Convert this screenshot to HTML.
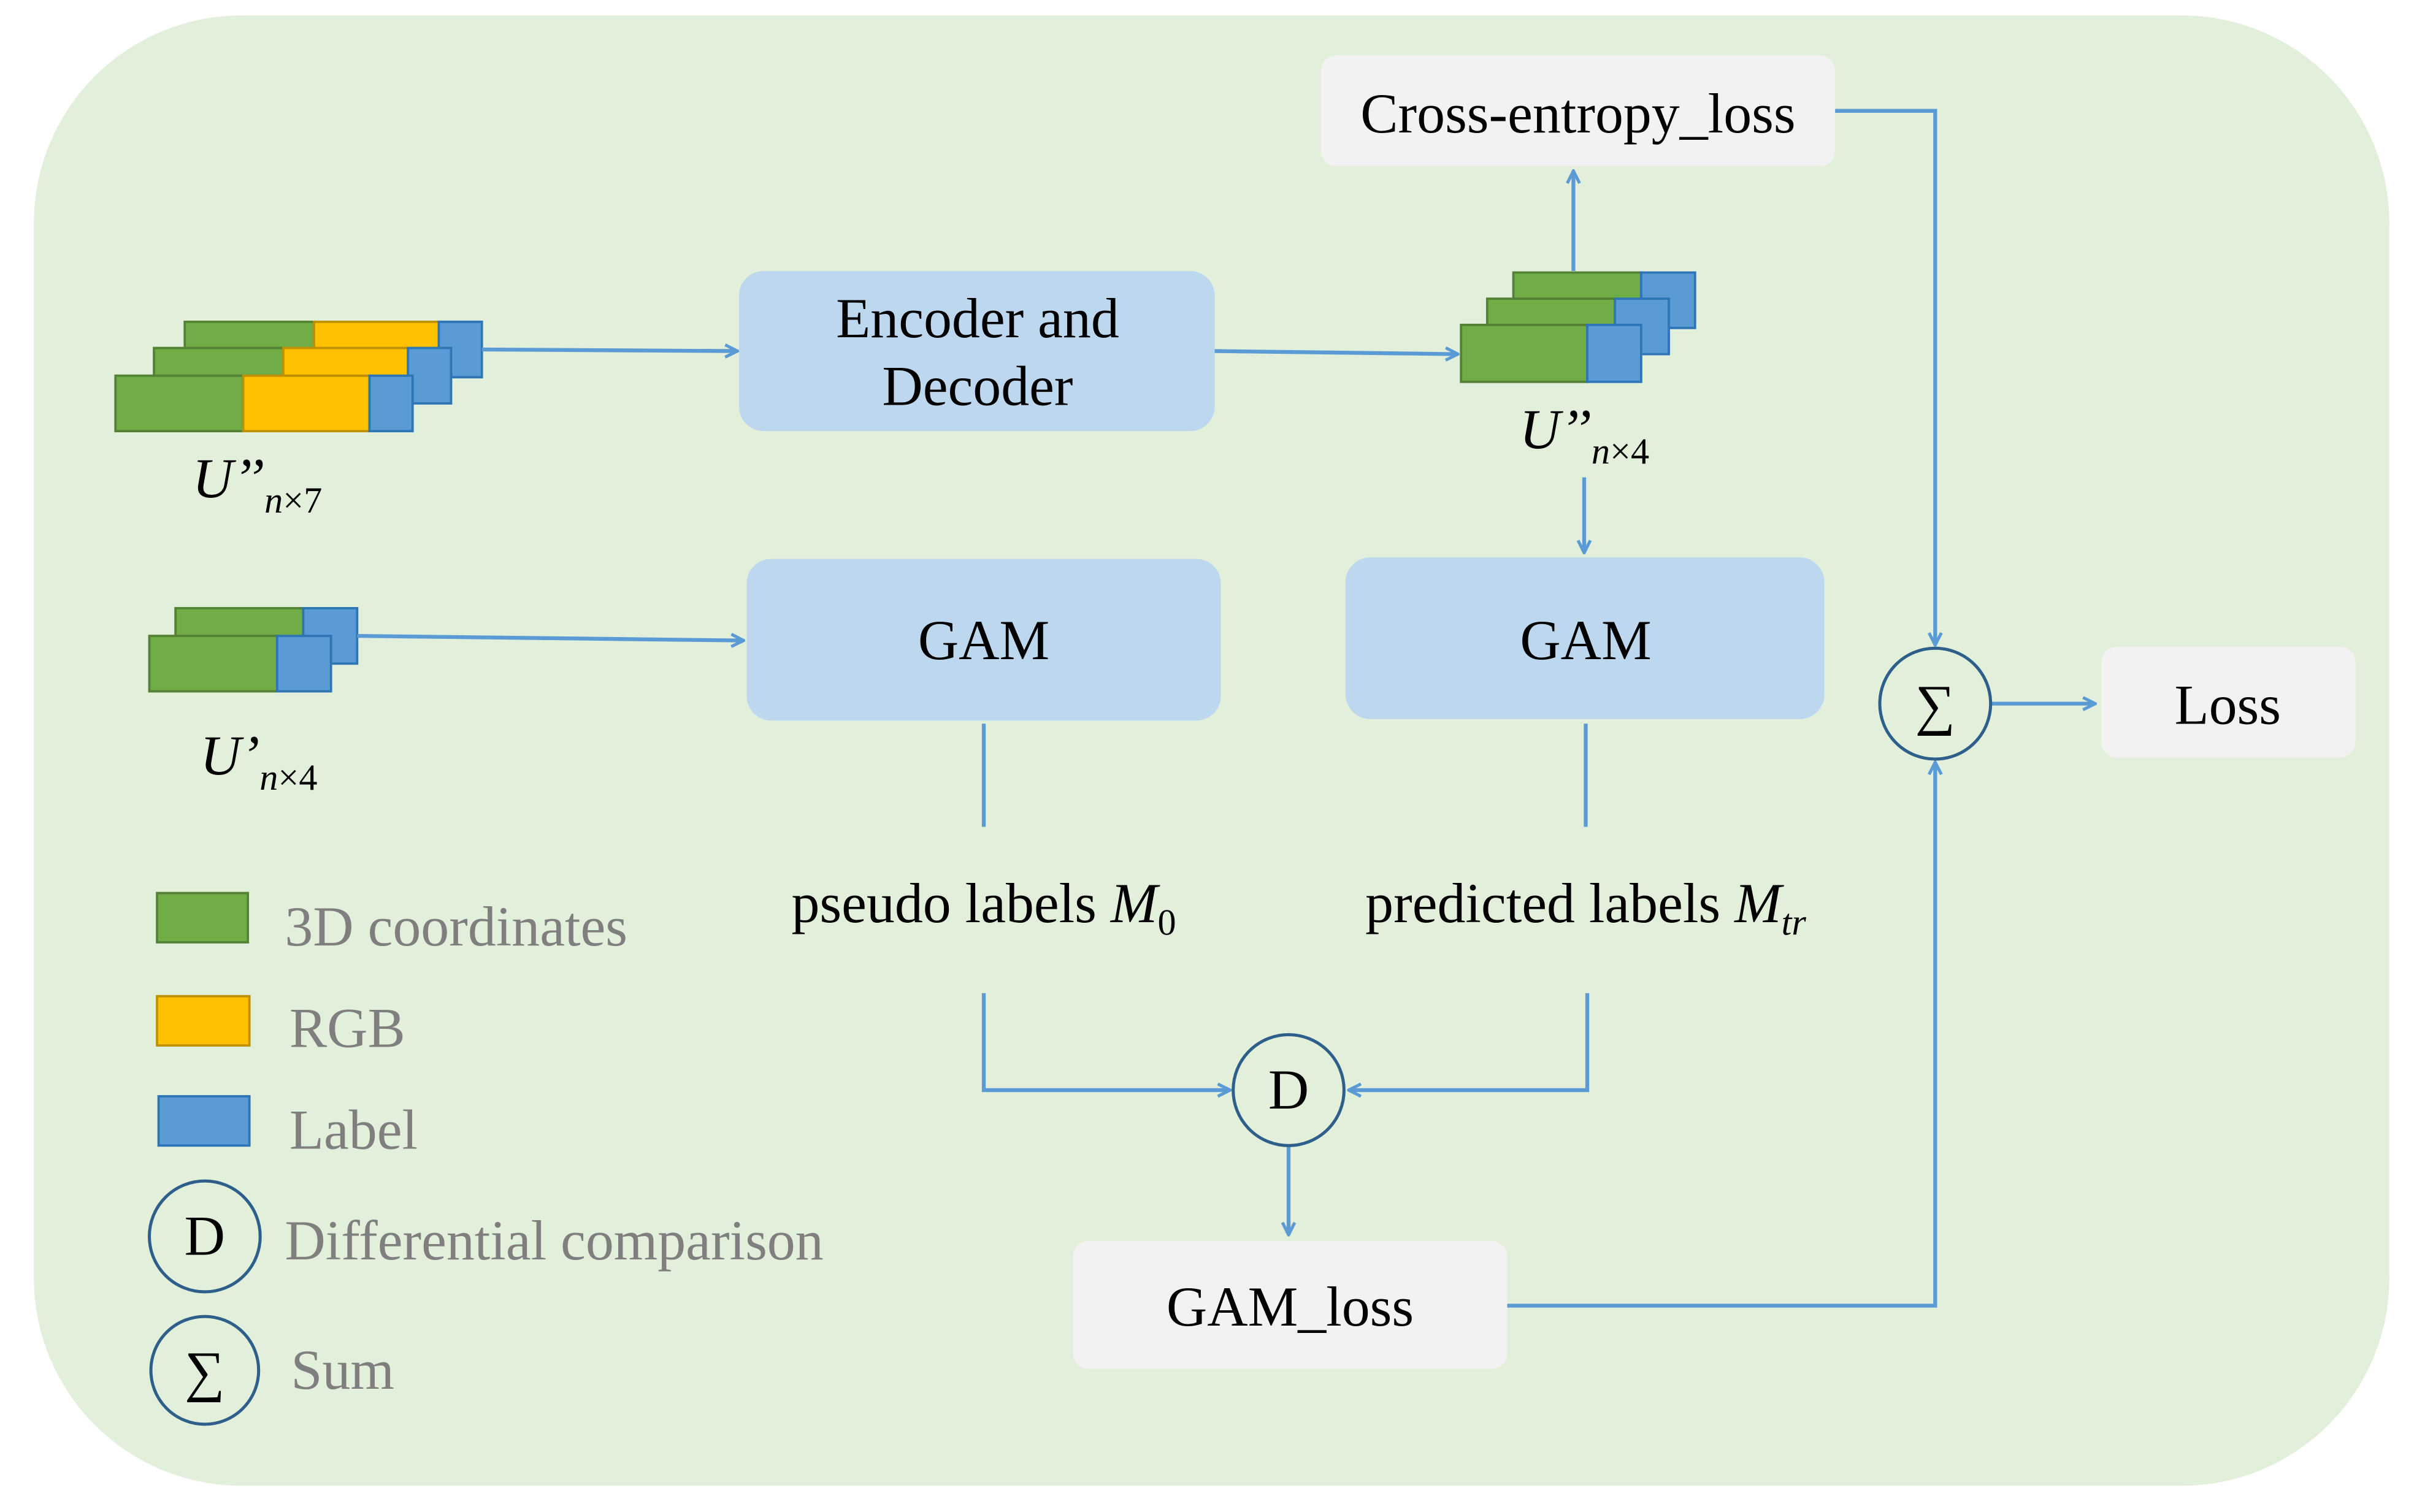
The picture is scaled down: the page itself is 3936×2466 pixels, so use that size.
<!DOCTYPE html>
<html><head><style>html,body{margin:0;padding:0;background:#fff}svg{display:block}</style></head><body>
<svg width="3936" height="2466" viewBox="0 0 1568 982" preserveAspectRatio="none" xmlns="http://www.w3.org/2000/svg" font-family="Liberation Serif, serif">
<defs><marker id="a" markerWidth="10" markerHeight="10" refX="9" refY="5" orient="auto" markerUnits="userSpaceOnUse"><path d="M1,1 L9,5 L1,9" fill="none" stroke="#5b9bd5" stroke-width="2"/></marker></defs>
<rect x="22" y="10" width="1530" height="955" rx="135" fill="#e2efda"/>
<g stroke-width="1.5">
<g stroke="#548235"><rect x="120" y="209" width="84" height="36" fill="#70ad47"/><rect x="204" y="209" width="81" height="36" fill="#ffc000" stroke="#bf9000"/><rect x="285" y="209" width="28" height="36" fill="#5b9bd5" stroke="#2e75b6"/></g>
<g stroke="#548235"><rect x="100" y="226" width="84" height="36" fill="#70ad47"/><rect x="184" y="226" width="81" height="36" fill="#ffc000" stroke="#bf9000"/><rect x="265" y="226" width="28" height="36" fill="#5b9bd5" stroke="#2e75b6"/></g>
<g stroke="#548235"><rect x="75" y="244" width="83" height="36" fill="#70ad47"/><rect x="158" y="244" width="82" height="36" fill="#ffc000" stroke="#bf9000"/><rect x="240" y="244" width="28" height="36" fill="#5b9bd5" stroke="#2e75b6"/></g>
<g stroke="#548235"><rect x="983" y="177" width="83" height="36" fill="#70ad47"/><rect x="1066" y="177" width="35" height="36" fill="#5b9bd5" stroke="#2e75b6"/></g>
<g stroke="#548235"><rect x="966" y="194" width="83" height="36" fill="#70ad47"/><rect x="1049" y="194" width="35" height="36" fill="#5b9bd5" stroke="#2e75b6"/></g>
<g stroke="#548235"><rect x="949" y="211" width="82" height="37" fill="#70ad47"/><rect x="1031" y="211" width="35" height="37" fill="#5b9bd5" stroke="#2e75b6"/></g>
<g stroke="#548235"><rect x="114" y="395" width="83" height="36" fill="#70ad47"/><rect x="197" y="395" width="35" height="36" fill="#5b9bd5" stroke="#2e75b6"/></g>
<g stroke="#548235"><rect x="97" y="413" width="83" height="36" fill="#70ad47"/><rect x="180" y="413" width="35" height="36" fill="#5b9bd5" stroke="#2e75b6"/></g>
<rect x="102" y="580" width="59" height="32" fill="#70ad47" stroke="#548235"/>
<rect x="102" y="647" width="60" height="32" fill="#ffc000" stroke="#bf9000"/>
<rect x="103" y="712" width="59" height="32" fill="#5b9bd5" stroke="#2e75b6"/>
</g>
<rect x="480" y="176" width="309" height="104" rx="16" fill="#bdd7ee"/>
<rect x="485" y="363" width="308" height="105" rx="16" fill="#bdd7ee"/>
<rect x="874" y="362" width="311" height="105" rx="16" fill="#bdd7ee"/>
<rect x="858" y="36" width="334" height="72" rx="10" fill="#f2f2f2"/>
<rect x="697" y="806" width="282" height="83" rx="10" fill="#f2f2f2"/>
<rect x="1365" y="420" width="165" height="72" rx="10" fill="#f2f2f2"/>
<g stroke="#5b9bd5" stroke-width="2.5" fill="none">
<path d="M313,227 L479,228" marker-end="url(#a)"/>
<path d="M789,228 L947,230" marker-end="url(#a)"/>
<path d="M1022,176 L1022,111" marker-end="url(#a)"/>
<path d="M1192,72 L1257,72 L1257,419" marker-end="url(#a)"/>
<path d="M1029,310 L1029,359" marker-end="url(#a)"/>
<path d="M232,413 L483,416" marker-end="url(#a)"/>
<path d="M639,470 L639,537 M1030,470 L1030,537"/>
<path d="M639,645 L639,708 L799,708" marker-end="url(#a)"/>
<path d="M1031,645 L1031,708 L876,708" marker-end="url(#a)"/>
<path d="M837,744 L837,802" marker-end="url(#a)"/>
<path d="M979,848 L1257,848 L1257,495" marker-end="url(#a)"/>
<path d="M1293,457 L1361,457" marker-end="url(#a)"/>
</g>
<g fill="none" stroke="#2e5f8a" stroke-width="2">
<circle cx="837" cy="708" r="36"/><circle cx="1257" cy="457" r="36"/>
<circle cx="133" cy="803" r="36"/><circle cx="133" cy="890" r="35"/>
</g>
<g font-size="36.6" fill="#000" text-anchor="middle">
<text x="635" y="219">Encoder and</text><text x="635" y="263">Decoder</text>
<text x="639" y="428">GAM</text><text x="1030" y="428">GAM</text>
<text x="1025" y="86">Cross-entropy_loss</text>
<text x="838" y="861">GAM_loss</text>
<text x="1447" y="470">Loss</text>
<text x="837" y="720">D</text><text x="1257" y="470">∑</text>
<text x="133" y="815">D</text><text x="133" y="903">∑</text>
<text x="639" y="599">pseudo labels <tspan font-style="italic">M</tspan><tspan font-size="24" dy="8">0</tspan></text>
<text x="1030" y="599">predicted labels <tspan font-style="italic">M</tspan><tspan font-size="24" dy="8" font-style="italic">tr</tspan></text>
</g>
<g font-size="36.6" font-style="italic">
<text x="125" y="323">U’’<tspan font-size="24" dy="10">n</tspan><tspan font-size="24" font-style="normal">×7</tspan></text>
<text x="987" y="291">U’’<tspan font-size="24" dy="10">n</tspan><tspan font-size="24" font-style="normal">×4</tspan></text>
<text x="130" y="503">U’<tspan font-size="24" dy="10">n</tspan><tspan font-size="24" font-style="normal">×4</tspan></text>
</g>
<g font-size="36.6" fill="#7f7f7f">
<text x="185" y="614">3D coordinates</text>
<text x="188" y="680">RGB</text>
<text x="188" y="746">Label</text>
<text x="185" y="818">Differential comparison</text>
<text x="189" y="902">Sum</text>
</g>
</svg>
</body></html>
